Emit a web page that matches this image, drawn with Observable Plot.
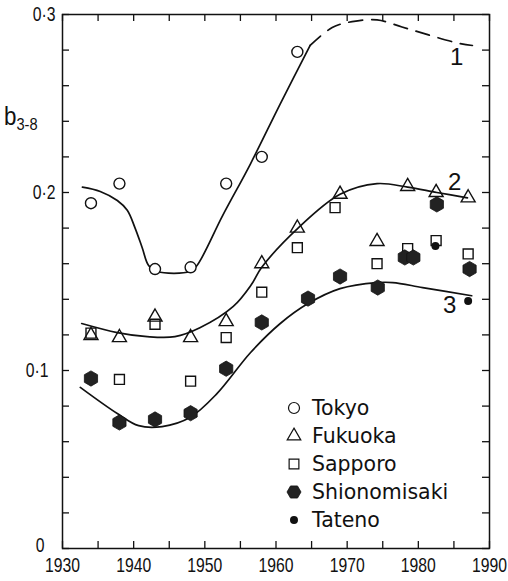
<!DOCTYPE html>
<html>
<head>
<meta charset="utf-8">
<script src="https://cdn.jsdelivr.net/npm/d3@7"></script>
<script src="https://cdn.jsdelivr.net/npm/@observablehq/plot@0.6"></script>
<style>
  html, body { margin: 0; padding: 0; background: #fff; }
  #wrap { position: relative; width: 508px; height: 581px; font-family: 'Liberation Sans', sans-serif; color: #111; }
  #ylab { position: absolute; left: 4px; top: 103px; font-size: 26px; line-height: 1; transform: scaleX(0.86); transform-origin: left top; }
  #ylab sub { font-size: 17px; vertical-align: -5px; }
  #legend { position: absolute; left: 284px; top: 394px; font-family: 'DejaVu Sans', sans-serif; font-size: 20.5px; }
  #legend .row { height: 28px; display: flex; align-items: center; }
  #legend svg { width: 20px; height: 20px; margin-right: 8px; overflow: visible; }
</style>
</head>
<body>
<div id="wrap">
  <div id="chart"></div>
  <div id="ylab">b<sub>3-8</sub></div>
  <div id="legend"></div>
</div>
<script>
// ---- data ----
const xTicks = [1930, 1940, 1950, 1960, 1970, 1980, 1990];
const yTicksUpper = [0.2, 0.3];
const yTickMid = [0.1];
const yTickZero = [0];

const tokyoYears = [1934, 1938, 1943, 1948, 1953, 1958, 1963];
const tokyoVals  = [0.194, 0.205, 0.157, 0.158, 0.205, 0.220, 0.279];

const fukuokaYears = [1934, 1938, 1943, 1948, 1953, 1958, 1963, 1969, 1974.2, 1978.5, 1982.5, 1987];
const fukuokaVals  = [0.1197, 0.1185, 0.130, 0.1185, 0.1275, 0.160, 0.180, 0.199, 0.1725, 0.2034, 0.200, 0.197];

const sapporoYears = [1934, 1938, 1943, 1948, 1953, 1958, 1963, 1968.3, 1974.2, 1978.5, 1982.5, 1987];
const sapporoVals  = [0.121, 0.095, 0.126, 0.094, 0.1185, 0.144, 0.169, 0.1915, 0.160, 0.1685, 0.173, 0.1655];

const shioYears = [1934, 1938, 1943, 1948, 1953, 1958, 1964.5, 1969, 1974.3, 1978.1, 1979.3, 1982.6, 1987.2];
const shioVals  = [0.0955, 0.0708, 0.0725, 0.076, 0.101, 0.127, 0.1404, 0.1528, 0.1466, 0.1635, 0.1635, 0.1933, 0.157];

const tatenoYears = [1982.4, 1987];
const tatenoVals  = [0.170, 0.139];

// curve 1 (solid part and dashed extrapolation)
const curve1Years = [1932.8, 1935.3, 1937.7, 1939.1, 1940.2, 1941.2, 1942.1, 1943.3, 1947.9, 1948.9, 1952.5, 1956.4, 1960.6, 1964.8];
const curve1Vals  = [0.203, 0.2006, 0.1955, 0.190, 0.180, 0.169, 0.159, 0.1556, 0.1556, 0.159, 0.187, 0.216, 0.2498, 0.2826];
const curve1dYears = [1964.8, 1967.9, 1970.7, 1974.2, 1977.7, 1981.2, 1985.8, 1987.6];
const curve1dVals  = [0.2826, 0.2927, 0.296, 0.297, 0.293, 0.2888, 0.2837, 0.2826];

// curve 2
const curve2Years = [1932.7, 1937.7, 1941.9, 1945.8, 1949.3, 1954, 1956.5, 1958, 1963.1, 1969, 1974.2, 1978.5, 1982.6, 1986.9];
const curve2Vals  = [0.1264, 0.1213, 0.119, 0.119, 0.124, 0.136, 0.148, 0.158, 0.180, 0.199, 0.205, 0.203, 0.200, 0.197];

// curve 3
const curve3Years = [1932.5, 1937.7, 1940.7, 1944, 1947.9, 1951.7, 1956.4, 1960.6, 1964.5, 1969, 1974.2, 1976.4, 1980.6, 1987.5];
const curve3Vals  = [0.0905, 0.0758, 0.069, 0.0685, 0.0736, 0.087, 0.110, 0.1264, 0.1376, 0.146, 0.1494, 0.1494, 0.1466, 0.142];

const curveLabels = ["1", "2", "3"];
const curveLabelYears = [1985.4, 1985.1, 1984.4];
const curveLabelVals  = [0.276, 0.2056, 0.1365];

const legendNames = ["Tokyo", "Fukuoka", "Sapporo", "Shionomisaki", "Tateno"];

// ---- build ----
const zip = (xs, ys) => xs.map((x, i) => ({x, y: ys[i]}));
const W = 508, H = 581, mL = 62, mR = 19, mT = 14, mB = 33;
const pw = W - mL - mR, ph = H - mT - mB;
const xMinor = d3.range(1930, 1991, 5);
const yMinor = d3.range(0, 16).map(i => +(i * 0.02).toFixed(2));
const ink = "#111";
const fmtY = d => d === 0 ? "0" : d3.format(".1f")(d).replace(".", "·");

const chart = Plot.plot({
  width: W, height: H,
  marginLeft: mL, marginRight: mR, marginTop: mT, marginBottom: mB,
  style: {fontFamily: "'Liberation Sans', sans-serif", fontSize: "21px", color: ink, background: "#fff"},
  x: {domain: [1930, 1990]},
  y: {domain: [0, 0.3]},
  marks: [
    Plot.frame({stroke: ink, strokeWidth: 1.5}),
    Plot.ruleX(xMinor, {x: d => d, insetTop: ph - 7, stroke: ink, strokeWidth: 1.3}),
    Plot.ruleX(xMinor, {x: d => d, insetBottom: ph - 7, stroke: ink, strokeWidth: 1.3}),
    Plot.ruleY(yMinor, {y: d => d, insetRight: pw - 7, stroke: ink, strokeWidth: 1.3}),
    Plot.ruleY(yMinor, {y: d => d, insetLeft: pw - 7, stroke: ink, strokeWidth: 1.3}),
    Plot.axisX({ticks: xTicks, tickSize: 0, tickPadding: 9, tickFormat: d => String(d), label: null, fill: ink, fontSize: 21}),
    Plot.axisY({ticks: yTicksUpper, tickSize: 0, tickPadding: 7, tickFormat: fmtY, label: null, fill: ink, fontSize: 21}),
    Plot.axisY({ticks: yTickMid, tickSize: 0, tickPadding: 14, tickFormat: fmtY, label: null, fill: ink, fontSize: 21}),
    Plot.axisY({ticks: yTickZero, tickSize: 0, tickPadding: 18, tickFormat: fmtY, label: null, fill: ink, fontSize: 21, dy: -3}),
    Plot.line(zip(curve1Years, curve1Vals), {x: "x", y: "y", curve: "catmull-rom", stroke: ink, strokeWidth: 1.7}),
    Plot.line(zip(curve1dYears, curve1dVals), {x: "x", y: "y", curve: "catmull-rom", stroke: ink, strokeWidth: 1.7, strokeDasharray: "14,9"}),
    Plot.line(zip(curve2Years, curve2Vals), {x: "x", y: "y", curve: "catmull-rom", stroke: ink, strokeWidth: 1.7}),
    Plot.line(zip(curve3Years, curve3Vals), {x: "x", y: "y", curve: "catmull-rom", stroke: ink, strokeWidth: 1.7}),
    Plot.dot(zip(tokyoYears, tokyoVals), {x: "x", y: "y", symbol: "circle", r: 5.5, stroke: ink, strokeWidth: 1.4, fill: "#fff"}),
    Plot.dot(zip(sapporoYears, sapporoVals), {x: "x", y: "y", symbol: "square", r: 5.6, stroke: ink, strokeWidth: 1.4, fill: "#fff"}),
    Plot.dot(zip(fukuokaYears, fukuokaVals), {x: "x", y: "y", symbol: "triangle", r: 5.2, stroke: ink, strokeWidth: 1.4, fill: "none"}),
    Plot.dot(zip(shioYears, shioVals), {x: "x", y: "y", symbol: "hexagon", r: 6.6, stroke: ink, strokeWidth: 0.8, fill: "#222"}),
    Plot.dot(zip(tatenoYears, tatenoVals), {x: "x", y: "y", symbol: "circle", r: 4, fill: ink, stroke: "none"}),
    Plot.text(curveLabels, {x: (d, i) => curveLabelYears[i], y: (d, i) => curveLabelVals[i], text: d => d, fontSize: 24, fill: ink})
  ]
});
// condense the tick labels horizontally (the reference uses a narrow face)
chart.querySelectorAll('g[aria-label$="tick label"] text').forEach(t => {
  const x = +t.getAttribute("x") || 0, y = +t.getAttribute("y") || 0;
  const tr = t.getAttribute("transform") || "";
  t.setAttribute("transform", `${tr} translate(${x},${y}) scale(0.75,1) translate(${-x},${-y})`);
});
document.getElementById("chart").appendChild(chart);

// legend
const legendSymbols = [
  {sym: d3.symbolCircle, size: 95, fill: "#fff", stroke: ink, sw: 1.2},
  {sym: d3.symbolTriangle, size: 80, fill: "#fff", stroke: ink, sw: 1.2},
  {sym: d3.symbolSquare, size: 95, fill: "#fff", stroke: ink, sw: 1.2},
  {sym: null, size: 0, fill: "#222", stroke: ink, sw: 0.8},
  {sym: d3.symbolCircle, size: 50, fill: ink, stroke: "none", sw: 0}
];
const leg = d3.select("#legend");
legendNames.forEach((name, i) => {
  const s = legendSymbols[i];
  const row = leg.append("div").attr("class", "row");
  const svg = row.append("svg").attr("viewBox", "-10 -10 20 20");
  let d;
  if (s.sym) d = d3.symbol(s.sym, s.size)();
  else {
    const r = 7, pts = d3.range(6).map(k => [r * Math.cos(Math.PI / 3 * k), r * Math.sin(Math.PI / 3 * k)]);
    d = "M" + pts.map(p => p.join(",")).join("L") + "Z";
  }
  svg.append("path").attr("d", d).attr("fill", s.fill).attr("stroke", s.stroke).attr("stroke-width", s.sw);
  row.append("span").text(name);
});
</script>
</body>
</html>
